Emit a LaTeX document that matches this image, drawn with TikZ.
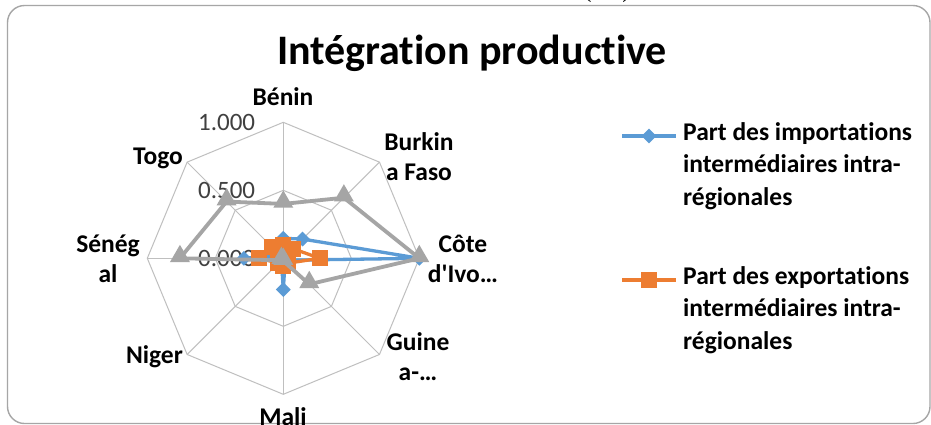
\documentclass[tikz,border=0pt]{standalone}
\usepackage{fontspec}
\setmainfont{Carlito}[RawFeature=-liga]
\newfontfamily\capfont{Liberation Serif}
\usetikzlibrary{shapes.geometric}
\definecolor{serblue}{HTML}{5B9BD5}
\definecolor{serorange}{HTML}{ED7D31}
\definecolor{sergray}{HTML}{A5A5A5}
\definecolor{gridcol}{HTML}{BFBFBF}
\definecolor{framecol}{HTML}{A6A6A6}
\definecolor{ticktext}{HTML}{404040}
\tikzset{
  axislabel/.style={font=\fontsize{25.5}{30}\selectfont\bfseries, align=center, inner sep=0pt},
  ticklabel/.style={font=\fontsize{25}{30}\selectfont, text=ticktext, anchor=east, inner sep=0pt},
  legendtext/.style={font=\fontsize{25.5}{32.5}\selectfont\bfseries, align=left, anchor=north west, inner sep=0pt},
  gridline/.style={draw=gridcol, line width=1pt},
  bline/.style={draw=serblue, line width=3.3pt, line join=round},
  oline/.style={draw=serorange, line width=3.3pt, line join=round},
  gline/.style={draw=sergray, line width=3.8pt, line join=round},
  bmark/.style={diamond, fill=serblue, minimum width=15pt, minimum height=15pt, inner sep=0pt},
  omark/.style={rectangle, fill=serorange, minimum width=16pt, minimum height=16pt, inner sep=0pt},
  gmark/.style={regular polygon, regular polygon sides=3, fill=sergray, minimum size=23pt, inner sep=0pt},
}
\begin{document}
\begin{tikzpicture}[x=1pt,y=-1pt]
\useasboundingbox (0,0) rectangle (931,424);
\fill[white] (0,0) rectangle (931,424);

% caption above the chart area, cut by the page edge
\begin{scope}
  \clip (0,0) rectangle (931,424);
  \node[font=\capfont\fontsize{24}{28}\selectfont, anchor=base] (cap) at (607,-3) {(1/2)};
\end{scope}

% chart frame
\draw[framecol, line width=1.4pt, rounded corners=17pt] (7.5,5.5) rectangle (930,423.5);

% title
\node[font=\fontsize{42}{50}\selectfont\bfseries, inner sep=0pt] (title) at (472,53) {Intégration productive};

% radar grid
\begin{scope}[shift={(283.3,258.3)}, x=1pt, y=1pt]
  \def\R{136}
  \foreach \a in {90,45,0,-45,-90,-135,180,135}
    \draw[gridline] (0,0) -- (\a:\R);
  \draw[gridline] (90:\R) -- (45:\R) -- (0:\R) -- (-45:\R) -- (-90:\R) -- (-135:\R) -- (180:\R) -- (135:\R) -- cycle;
  \draw[gridline] (90:0.5*\R) -- (45:0.5*\R) -- (0:0.5*\R) -- (-45:0.5*\R) -- (-90:0.5*\R) -- (-135:0.5*\R) -- (180:0.5*\R) -- (135:0.5*\R) -- cycle;

  % tick labels
  \node[ticklabel] (t100) at (-28,136) {1.000};
  \node[ticklabel] (t050) at (-28,68) {0.500};
  \node[ticklabel] (t000) at (-28,0) {0.000};

  % blue series: intermediate imports
  \coordinate (b1) at (90:0.147*\R);
  \coordinate (b2) at (45:0.20*\R);
  \coordinate (b3) at (0:1.0*\R);
  \coordinate (b4) at (-45:0.02*\R);
  \coordinate (b5) at (-90:0.23*\R);
  \coordinate (b6) at (-135:0.02*\R);
  \coordinate (b7) at (180:0.29*\R);
  \coordinate (b8) at (135:0.03*\R);
  \draw[bline] (b1) -- (b2) -- (b3) -- (b4) -- (b5) -- (b6) -- (b7) -- (b8) -- cycle;
  \foreach \p in {b1,b2,b3,b4,b5,b6,b7,b8} \node[bmark] at (\p) {};

  % orange series: intermediate exports
  \coordinate (o1) at (90:0.10*\R);
  \coordinate (o2) at (45:0.10*\R);
  \coordinate (o3) at (0:0.27*\R);
  \coordinate (o4) at (-45:0.05*\R);
  \coordinate (o5) at (-90:0.06*\R);
  \coordinate (o6) at (-135:0.05*\R);
  \coordinate (o7) at (180:0.18*\R);
  \coordinate (o8) at (135:0.12*\R);
  \draw[oline] (o1) -- (o2) -- (o3) -- (o4) -- (o5) -- (o6) -- (o7) -- (o8) -- cycle;
  \foreach \p in {o1,o2,o3,o4,o5,o6,o7,o8} \node[omark] at (\p) {};

  % gray series
  \coordinate (g1) at (90:0.40*\R);
  \coordinate (g2) at (45:0.63*\R);
  \coordinate (g3) at (0:1.0*\R);
  \coordinate (g4) at (-45:0.27*\R);
  \coordinate (g5) at (-90:0.02*\R);
  \coordinate (g6) at (-135:0.02*\R);
  \coordinate (g7) at (180:0.76*\R);
  \coordinate (g8) at (135:0.59*\R);
  \draw[gline] (g1) -- (g2) -- (g3) -- (g4) -- (g5) -- (g6) -- (g7) -- (g8) -- cycle;
  \foreach \p in {g1,g2,g3,g4,g5,g6,g7,g8} \node[gmark, yshift=2pt] at (\p) {};
\end{scope}

% category labels
\node[axislabel] (lbenin) at (283,97) {Bénin};
\node[axislabel] (lburk) at (419,157) {Burkin\\a Faso};
\node[axislabel] (lcote) at (463,259) {Côte\\d\textquotesingle Ivo…};
\node[axislabel] (lguin) at (418,357) {Guine\\a-…};
\node[axislabel] (lmali) at (283,417) {Mali};
\node[axislabel, anchor=east] (lniger) at (183,357) {Niger};
\node[axislabel] (lsen) at (108,259) {Sénég\\al};
\node[axislabel, anchor=east] (ltogo) at (183,158) {Togo};

% legend
\coordinate (la1) at (622,136);
\coordinate (lb1) at (676,136);
\draw[bline] (la1) -- (lb1);
\node[bmark] (lm1) at (649,136) {};
\node[legendtext] (lt1) at (683,122) {Part des importations\\intermédiaires intra-\\régionales};

\coordinate (la2) at (622,280);
\coordinate (lb2) at (676,280);
\draw[oline] (la2) -- (lb2);
\node[omark] (lm2) at (649,280) {};
\node[legendtext] (lt2) at (683,266) {Part des exportations\\intermédiaires intra-\\régionales};
\end{tikzpicture}
\end{document}
